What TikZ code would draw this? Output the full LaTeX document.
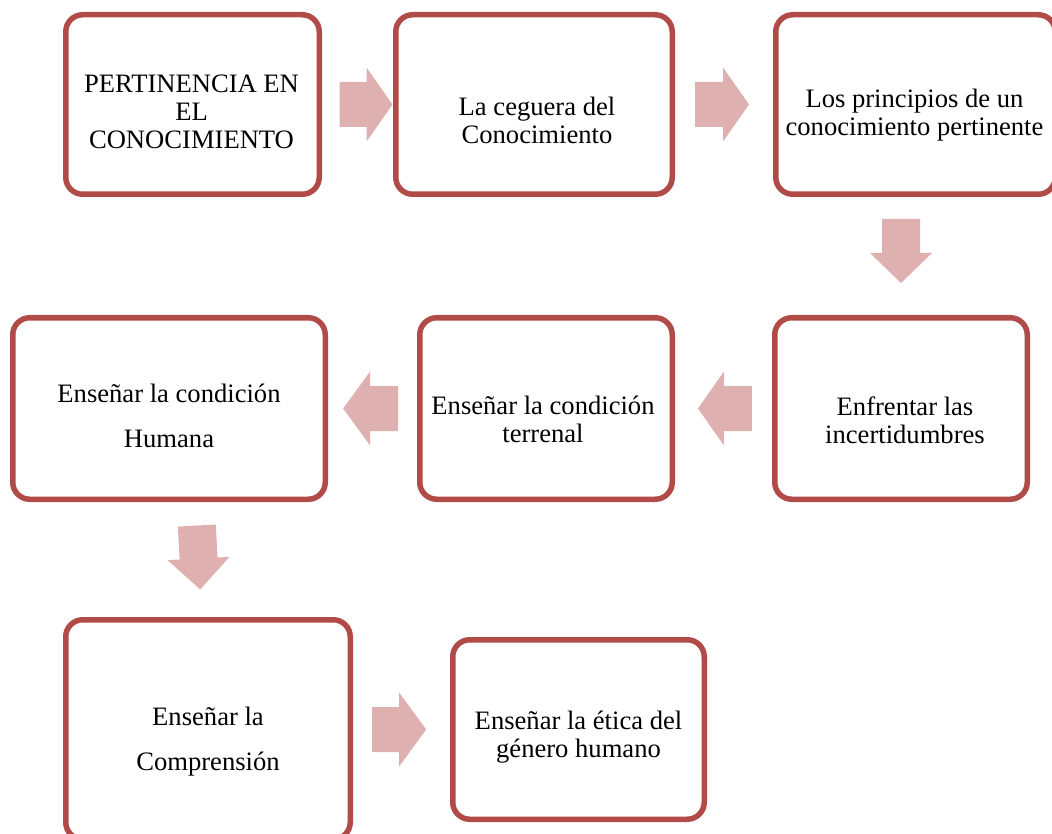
\documentclass[tikz,border=0pt]{standalone}
\usepackage{fontspec}
\setmainfont{Liberation Serif}
\usetikzlibrary{calc,backgrounds}
\definecolor{borde}{RGB}{176,75,72}
\definecolor{rosa}{RGB}{222,176,175}
\newcommand{\tstrut}{\rule[-0.25em]{0pt}{1.2em}}
\tikzset{
	caja/.style={draw=borde, line width=5.5pt, rounded corners=17pt, fill=white, inner sep=0pt},
	texto/.style={align=center, inner sep=0pt, font=\fontsize{26.6}{28}\selectfont,
		execute at begin node=\tstrut, execute at end node=\tstrut},
	pics/bloque/.style n args={4}{code={
		\fill[rosa] (-#1/2,-#2/2) -- (#1/2-#4,-#2/2) -- (#1/2-#4,-#3/2) -- (#1/2,0)
			-- (#1/2-#4,#3/2) -- (#1/2-#4,#2/2) -- (-#1/2,#2/2) -- cycle;
	}}
}
\begin{document}
\begin{tikzpicture}[x=1pt,y=-1pt]
	\useasboundingbox (0,0) rectangle (1052,834);
	
	\node[caja, minimum width=253.5pt, minimum height=179.5pt] (b1) at (192.5,104.5) {};
	\node[caja, minimum width=276.5pt, minimum height=179.5pt] (b2) at (534,104.5) {};
	\node[caja, minimum width=279.5pt, minimum height=179.5pt] (b3) at (915.5,104.5) {};
	\node[caja, minimum width=252.5pt, minimum height=181.5pt] (b4) at (901,408.5) {};
	\node[caja, minimum width=252.5pt, minimum height=181.5pt] (b5) at (546,408.5) {};
	\node[caja, minimum width=312.5pt, minimum height=181.5pt] (b6) at (169,408.5) {};
	\node[caja, minimum width=284.5pt, minimum height=219.5pt] (b7) at (208,729.5) {};
	\node[caja, minimum width=251.5pt, minimum height=179.5pt] (b8) at (578.5,729.5) {};
	
	\node[texto] (t1) at ($(b1.center)+(-1,11)$) {PERTINENCIA EN\\EL\\CONOCIMIENTO};
	\node[texto] (t2) at ($(b2.center)+(3,19)$) {La ceguera del\\Conocimiento};
	\node[texto] (t3) at ($(b3.center)+(-1,11)$) {Los principios de un\\conocimiento pertinente};
	\node[texto] (t4) at ($(b4.center)+(4,15)$) {Enfrentar las\\incertidumbres};
	\node[texto] (t5) at ($(b5.center)+(-3,14)$) {Enseñar la condición\\terrenal};
	\node[texto, font=\fontsize{26.6}{45}\selectfont] (t6) at ($(b6.center)+(0,11)$) {Enseñar la condición\\Humana};
	\node[texto, font=\fontsize{26.6}{45}\selectfont] (t7) at ($(b7.center)+(0,13)$) {Enseñar la\\Comprensión};
	\node[texto] (t8) at ($(b8.center)+(0,8)$) {Enseñar la ética del\\género humano};
	
	\begin{scope}[on background layer]
		\pic at ($(b1.east)!0.62!(b2.west)$) {bloque={53}{45}{74}{26}};
		\pic at ($(b2.east)!0.48!(b3.west)$) {bloque={54}{45}{74}{26}};
		\pic[rotate=-90] at ($(b4.north)+(0,-64)$) {bloque={64}{38}{62}{30}};
		\pic[rotate=180] at ($(b5.east)!0.515!(b4.west)$) {bloque={54}{45}{74}{26}};
		\pic[rotate=180] at ($(b6.east)!0.479!(b5.west)$) {bloque={55}{45}{74}{27}};
		\pic[rotate=-87] at ($(b6.south)!0.5!(b7.north)+(10,-2)$) {bloque={64}{38}{62}{31}};
		\pic at ($(b7.east)!0.476!(b8.west)$) {bloque={54}{45}{74}{27}};
	\end{scope}
\end{tikzpicture}
\end{document}
